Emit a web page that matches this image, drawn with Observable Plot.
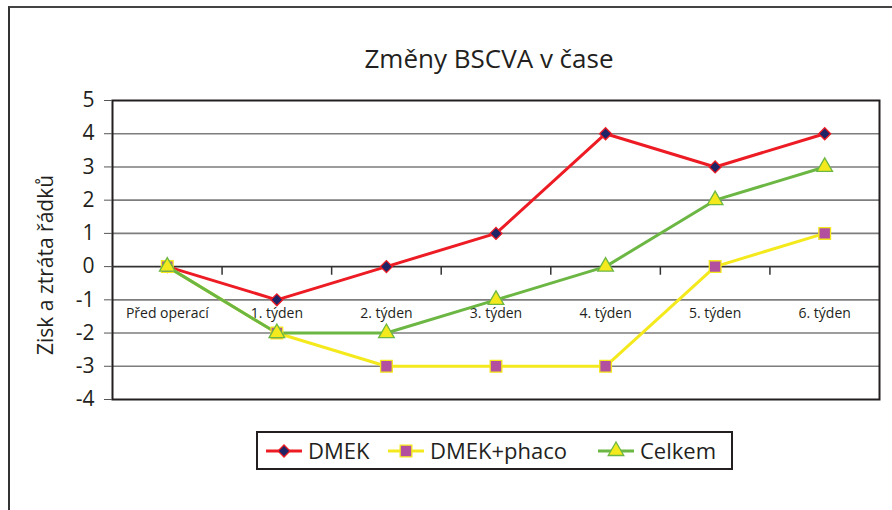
<!DOCTYPE html>
<html><head><meta charset="utf-8">
<script src="https://cdn.jsdelivr.net/npm/d3@7"></script>
<script src="https://cdn.jsdelivr.net/npm/@observablehq/plot@0.6"></script>
<style>
body{margin:0;background:#fff;}
#wrap{position:relative;width:892px;height:510px;overflow:hidden;font-family:"Open Sans",sans-serif;color:#231f20;}
#outer{position:absolute;left:8px;top:6px;width:900px;height:520px;border-top:2px solid #444;border-left:2px solid #333;}
#title{position:absolute;top:40px;left:0;width:978px;text-align:center;font-size:26px;white-space:nowrap;}
#chart{position:absolute;left:0;top:0;}
#legend{position:absolute;left:256px;top:431px;width:473px;height:35px;border:2.5px solid #231f20;background:#fff;}
#legend svg{display:block}
</style>
</head><body>
<div id="wrap">
  <div id="outer"></div>
  <div id="chart"></div>
  <div id="title">Změny BSCVA v čase</div>
  <div id="legend"></div>
</div>
<script>
const categories = ["Před operací","1. týden","2. týden","3. týden","4. týden","5. týden","6. týden"];
const seriesNames = ["DMEK","DMEK+phaco","Celkem"];
const dmek = [0,-1,0,1,4,3,4];
const dmekPhaco = [0,-2,-3,-3,-3,0,1];
const celkem = [0,-2,-2,-1,0,2,3];
const yTicks = [-4,-3,-2,-1,0,1,2,3,4,5];
const yLabel = "Zisk a ztráta řádků";

const lineColors = {"DMEK":"#ed1c24","DMEK+phaco":"#f4e91c","Celkem":"#6cb744"};
const markFill = {"DMEK":"#1f2466","DMEK+phaco":"#b24f9e","Celkem":"#f4e91c"};
const markStroke = {"DMEK":"#ed1c24","DMEK+phaco":"#f4e91c","Celkem":"#6cb744"};
const markSymbol = {"DMEK":"diamond2","DMEK+phaco":"square","Celkem":"triangle"};
const markR = {"DMEK":5.4,"DMEK+phaco":6.6,"Celkem":5.8};

const valuesBy = {"DMEK":dmek,"DMEK+phaco":dmekPhaco,"Celkem":celkem};
const rows = seriesNames.flatMap(s => categories.map((c,i)=>({series:s, cat:c, idx:i, value:valuesBy[s][i]})));
const catPos = (d) => d.idx + 0.5;
const boundaries = categories.slice(1).map((c,i)=> i+1);

const marks = [
  Plot.ruleY(yTicks.filter(v=>v!==0 && v!==-4 && v!==5), {y:d=>d, stroke:"#7d7d7d", strokeWidth:1.6}),
  Plot.frame({stroke:"#231f20", strokeWidth:2}),
  Plot.ruleY([0], {stroke:"#333", strokeWidth:1.8}),
  Plot.ruleX(boundaries, {x:d=>d, y1:0, y2:-0.26, stroke:"#333", strokeWidth:1.5}),
  Plot.axisY(yTicks, {tickSize:8, tickPadding:10, fontSize:21, stroke:"#555", label:null, tickFormat:d=>String(d)}),
  Plot.text(categories, {x:(d,i)=>i+0.5, y:()=>-1, dy:14, fontSize:14, fill:"#231f20"}),
  Plot.text([yLabel], {frameAnchor:"left", textAnchor:"middle", rotate:-90, dx:-66, dy:15, fontSize:21, fill:"#231f20"}),
];
for (const s of seriesNames) {
  const data = rows.filter(r=>r.series===s);
  marks.push(Plot.line(data, {x:catPos, y:"value", stroke:lineColors[s], strokeWidth:3}));
}
for (const s of seriesNames) {
  const data = rows.filter(r=>r.series===s);
  marks.push(Plot.dot(data, {x:catPos, y:"value", symbol:markSymbol[s], r:markR[s], fill:markFill[s], stroke:markStroke[s], strokeWidth:1.3}));
}

const chart = Plot.plot({
  width:892, height:510,
  marginLeft:112, marginRight:13, marginTop:100, marginBottom:111,
  style:{fontFamily:"'Open Sans', sans-serif", background:"transparent", color:"#231f20", overflow:"visible"},
  x:{domain:[0,categories.length], axis:null},
  y:{domain:[-4,5], axis:null},
  marks
});
document.getElementById("chart").appendChild(chart);

// legend
const lg = d3.select("#legend").append("svg").attr("width",473).attr("height",35);
const items = [
  {s:"DMEK", x:8},
  {s:"DMEK+phaco", x:130},
  {s:"Celkem", x:340}
];
const sym = {"diamond2":d3.symbolDiamond2,"square":d3.symbolSquare,"triangle":d3.symbolTriangle};
for (const it of items) {
  const g = lg.append("g").attr("transform",`translate(${it.x},18)`);
  g.append("line").attr("x1",0).attr("x2",36).attr("stroke",lineColors[it.s]).attr("stroke-width",3);
  g.append("path").attr("transform","translate(18,0)")
    .attr("d", d3.symbol(sym[markSymbol[it.s]], Math.PI*markR[it.s]*markR[it.s])())
    .attr("fill",markFill[it.s]).attr("stroke",markStroke[it.s]).attr("stroke-width",1.3);
  g.append("text").attr("x",42).attr("y",0).attr("dy","0.35em").attr("font-size",22)
    .attr("font-family","'Open Sans', sans-serif").attr("fill","#231f20").text(it.s);
}
</script>
</body></html>
